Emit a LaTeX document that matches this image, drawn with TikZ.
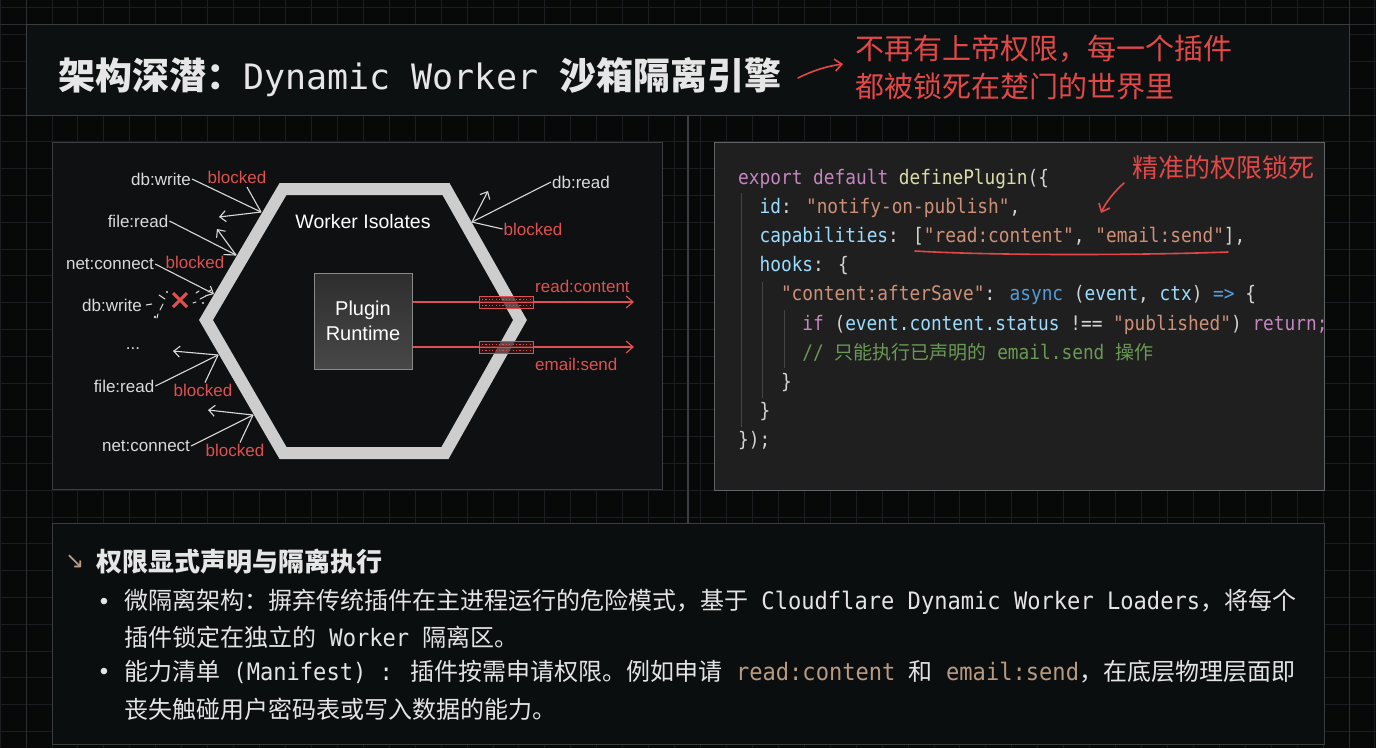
\documentclass[tikz,border=0pt]{standalone}
\usepackage{fontspec}
\setmainfont{Liberation Sans}
\newfontfamily\cjk{Noto Sans CJK SC}
\newfontfamily\dejavu{DejaVu Sans}
\newfontfamily\monoT[Ligatures=TeXOff]{DejaVu Sans Mono}
\newfontfamily\monoC[FakeStretch=0.89,Ligatures=TeXOff]{DejaVu Sans Mono}
\newfontfamily\monoB[FakeStretch=0.92,Ligatures=TeXOff]{DejaVu Sans Mono}
\usetikzlibrary{arrows.meta}
\definecolor{bg}{HTML}{070909}
\definecolor{gridc}{HTML}{1A1E20}
\definecolor{gridm}{HTML}{2A2E30}
\definecolor{pborder}{HTML}{3A3E41}
\definecolor{titlefill}{HTML}{0D1011}
\definecolor{leftfill}{HTML}{0E1011}
\definecolor{codefill}{HTML}{1F1F1F}
\definecolor{botfill}{HTML}{0B0E0F}
\definecolor{hexc}{HTML}{CDCDCD}
\definecolor{lblc}{HTML}{DADADA}
\definecolor{redc}{HTML}{E05050}
\definecolor{annot}{HTML}{E24848}
\definecolor{ckw}{HTML}{C586C0}
\definecolor{cfn}{HTML}{DCDCAA}
\definecolor{cprop}{HTML}{9CDCFE}
\definecolor{cstr}{HTML}{CE9178}
\definecolor{cblue}{HTML}{569CD6}
\definecolor{cpun}{HTML}{D4D4D4}
\definecolor{ccom}{HTML}{6A9955}
\definecolor{guide}{HTML}{454545}
\definecolor{tanc}{HTML}{B89A80}
\definecolor{bodyc}{HTML}{E4E4E4}
\definecolor{titlec}{HTML}{E6E6E6}
\definecolor{boxborder}{HTML}{8A8A8A}
\newcommand\cfm[1]{{\monoB #1}}
\begin{document}
\begin{tikzpicture}[x=1pt,y=-1pt,
  panel/.style={draw=pborder, line width=1pt},
  lbl/.style={text=lblc, font=\fontsize{17}{20}\selectfont, inner sep=1pt},
  blk/.style={text=redc, font=\fontsize{17}{20}\selectfont, inner sep=1pt},
  ray/.style={draw=lblc, line width=1.1pt},
  rayarrow/.style={ray, -{Straight Barb[length=6pt,width=11pt]}},
  redarrow/.style={draw=redc, line width=1.2pt, -{Straight Barb[length=7pt,width=12pt]}},
  annotarrow/.style={draw=annot, line width=1.6pt, line cap=round, -{Straight Barb[length=7pt,width=12pt]}},
  codeline/.style={anchor=base west, inner sep=0, text=cpun, font=\monoC\fontsize{20}{24}\selectfont},
  body/.style={anchor=west, inner sep=0, text=bodyc, font=\cjk\fontsize{24}{30}\selectfont},
  filterbox/.style={draw=redc, line width=0.8pt, fill=redc!25!black, fill opacity=0.7}
]
\useasboundingbox (0,0) rectangle (1376,748);
\fill[bg] (0,0) rectangle (1376,748);
% grid
\foreach \i in {-1,...,52} \draw[gridc, line width=0.8pt] ({26+\i*25.94},0) -- ({26+\i*25.94},748);
\foreach \j in {-4,...,23} \draw[gridc, line width=0.8pt] (0,{115+\j*26.8}) -- (1376,{115+\j*26.8});
\draw[gridm, line width=1pt] (26,0) -- (26,748) (1349,0) -- (1349,748) (0,24) -- (1376,24) (0,115) -- (1376,115);

% panels
\filldraw[panel, fill=titlefill] (26,24) rectangle (1349,115);
\filldraw[panel, fill=leftfill] (52,142) rectangle (662,489);
\filldraw[panel, fill=codefill, draw=pborder!80!white] (714,142) rectangle (1324,490);
\filldraw[panel, fill=botfill] (52,523) rectangle (1324,744);
\draw[pborder, line width=1.2pt] (688,115) -- (688,523);

% title
\node[anchor=west, inner sep=0, text=titlec] (title) at (58,77)
  {\cjk\bfseries\fontsize{37}{40}\selectfont 架构深潜：\monoT\mdseries\fontsize{35}{40}\selectfont Dynamic Worker \cjk\bfseries\fontsize{37}{40}\selectfont 沙箱隔离引擎};
\node[anchor=north west, align=left, inner sep=0, text=annot, font=\cjk\fontsize{29}{38}\selectfont] (note) at (855,35)
  {不再有上帝权限，每一个插件\\都被锁死在楚门的世界里};
\coordinate (a1s) at (798,78);
\coordinate (a1e) at (843,64);
\draw[annotarrow] (a1s) .. controls (814,70) and (828,66) .. (a1e);

% ---------- left diagram ----------
\draw[hexc, line width=12pt, line join=miter] (283,189) -- (446,189) -- (520,320) -- (445,453) -- (283,453) -- (206,320) -- cycle;
\node[text=white, font=\fontsize{19.5}{22}\selectfont, inner sep=0] (wi) at (363,222) {Worker Isolates};
\node[draw=boxborder, line width=1pt, top color=black!82, bottom color=black!72, minimum width=98pt, minimum height=96pt, align=center, text=white, font=\fontsize{20}{25}\selectfont, inner sep=0] (box) at (363,321) {Plugin\\Runtime};

% allowed outputs
\coordinate (o1) at (634,302);
\coordinate (o2) at (634,347);
\draw[redarrow] ([yshift=19pt]box.east) -- (o1);
\draw[redarrow] ([yshift=-26pt]box.east) -- (o2);
\foreach \y in {296,341} {
  \filldraw[filterbox] (479,\y) rectangle (533,{\y+12});
  \draw[redc, line width=0.6pt] (479,{\y+6}) -- (533,{\y+6});
  \draw[redc, line width=1pt, dash pattern=on 1.2pt off 2.2pt] (482,{\y+3}) -- (531,{\y+3}) (482,{\y+9}) -- (531,{\y+9});
}
\node[anchor=west, text=redc, font=\fontsize{17}{20}\selectfont, inner sep=0] (rc) at (535,286) {read:content};
\node[anchor=west, text=redc, font=\fontsize{17}{20}\selectfont, inner sep=0] (es) at (535,364) {email:send};

% blocked requests
\node[lbl] (l1) at (161,179) {db:write};
\node[blk] (b1) at (237,177) {blocked};
\coordinate (h1) at (261,212); \coordinate (r1) at (219,217); \coordinate (b1s) at (247,187);
\draw[ray] (l1.east) -- (h1); \draw[rayarrow] (h1) -- (r1); \draw[ray] (b1s) -- (h1);

\node[lbl] (l2) at (138,221) {file:read};
\node[blk] (b2) at (195,262) {blocked};
\coordinate (h2) at (236,255); \coordinate (r2) at (217,229);
\draw[ray] (l2.east) -- (h2); \draw[rayarrow] (h2) -- (r2); \draw[ray] ([xshift=-2pt]b2.north east) -- (h2);

\node[lbl] (l3) at (110,264) {net:connect};
\coordinate (h3) at (214,294);
\draw[rayarrow] (l3.east) -- (h3);

\node[lbl] (l4) at (112,305) {db:write};
\coordinate (xc) at (180,300);
\draw[ray] ([xshift=3pt]l4.east) -- ++(6,-1);
\draw[lblc, line width=1pt, line cap=round] (159,295) -- (165,299) (163,304) -- (160,310) (158,314) -- (157,318) (196,293) -- (199,291) (200,299) -- (206,296) (193,303) -- (196,302) (208,292) -- (211,290);
\fill[lblc] (167,292) circle (1.2pt) (203,303) circle (1.1pt) (155,317) circle (1.3pt);
\draw[redc, line width=3pt] ([xshift=-7pt,yshift=7pt]xc) -- ([xshift=7pt,yshift=-7pt]xc) ([xshift=7pt,yshift=7pt]xc) -- ([xshift=-7pt,yshift=-7pt]xc);

\node[lbl] (l5) at (133,349) {...};

\node[lbl] (l6) at (124,386) {file:read};
\node[blk] (b6) at (203,390) {blocked};
\coordinate (h6) at (218,355); \coordinate (r6) at (173,351);
\draw[ray] (l6.east) -- (h6); \draw[rayarrow] (h6) -- (r6); \draw[ray] ([xshift=2pt]b6.north) -- (h6);

\node[lbl] (l7) at (146,446) {net:connect};
\node[blk] (b7) at (235,450) {blocked};
\coordinate (h7) at (253,415); \coordinate (r7) at (208,410);
\draw[ray] (l7.east) -- (h7); \draw[rayarrow] (h7) -- (r7); \draw[ray] ([xshift=5pt]b7.north) -- (h7);

\node[lbl] (l8) at (581,182) {db:read};
\node[blk] (b8) at (533,229) {blocked};
\coordinate (h8) at (472,222); \coordinate (r8) at (488,191);
\draw[ray] (l8.west) -- (h8); \draw[rayarrow] (h8) -- (r8); \draw[ray] (b8.west) -- (h8);

% ---------- code panel ----------
\draw[guide, line width=1pt] (741,193) -- (741,427) (762,282) -- (762,398) (784,310) -- (784,368);
\node[codeline] (c1) at (738,184.5) {\textcolor{ckw}{export default} \textcolor{cfn}{definePlugin}(\{};
\node[codeline] (c2) at (759.4,213.6) {\textcolor{cprop}{id}: \textcolor{cstr}{"notify-on-publish"},};
\node[codeline] (c3) at (759.4,242.7) {\textcolor{cprop}{capabilities}: [\textcolor{cstr}{"read:content"}, \textcolor{cstr}{"email:send"}],};
\node[codeline] (c4) at (759.4,271.8) {\textcolor{cprop}{hooks}: \{};
\node[codeline] (c5) at (780.8,300.9) {\textcolor{cstr}{"content:afterSave"}: \textcolor{cblue}{async} (\textcolor{cprop}{event}, \textcolor{cprop}{ctx}) \textcolor{cblue}{=>} \{};
\node[codeline] (c6) at (802.2,330) {\textcolor{ckw}{if} (\textcolor{cprop}{event.content.status} !== \textcolor{cstr}{"published"}) \textcolor{ckw}{return;}};
\node[codeline, text=ccom] (c7) at (802.2,359.1) {// {\cjk\fontsize{19}{24}\selectfont 只能执行已声明的} email.send {\cjk\fontsize{19}{24}\selectfont 操作}};
\node[codeline] (c8) at (780.8,388.2) {\}};
\node[codeline] (c9) at (759.4,417.3) {\}};
\node[codeline] (c10) at (738,446.4) {\});};

\node[anchor=west, inner sep=0, text=annot, font=\cjk\fontsize{26}{30}\selectfont] (note2) at (1132,168) {精准的权限锁死};
\coordinate (a2s) at (1124,183);
\coordinate (a2e) at (1101,213);
\draw[annotarrow] (a2s) .. controls (1114,192) and (1106,202) .. (a2e);
\coordinate (u1) at (915,251);
\coordinate (u2) at (1228,252);
\draw[annot, line width=1.6pt, line cap=round] (u1) .. controls (1000,256) and (1150,255) .. (u2);

% ---------- bottom panel ----------
\node[anchor=west, inner sep=0, text=tanc, font=\dejavu\fontsize{23}{26}\selectfont] (harrow) at (65,562) {↘};
\node[anchor=west, inner sep=0, text=titlec, font=\cjk\bfseries\fontsize{26}{30}\selectfont] (head) at (96,562) {权限显式声明与隔离执行};
\node[anchor=center, inner sep=0, text=bodyc, font=\fontsize{24}{28}\selectfont] (bul1) at (104,604) {•};
\node[body] (t1) at (124,602) {微隔离架构：摒弃传统插件在主进程运行的危险模式，基于\cfm{ Cloudflare Dynamic Worker Loaders}，将每个};
\node[body] (t2) at (124,637) {插件锁定在独立的\cfm{ Worker }隔离区。};
\node[anchor=center, inner sep=0, text=bodyc, font=\fontsize{24}{28}\selectfont] (bul2) at (104,674) {•};
\node[body] (t3) at (124,672) {能力清单\cfm{ (Manifest) : }插件按需申请权限。例如申请\cfm{ \textcolor{tanc}{read:content} }和\cfm{ \textcolor{tanc}{email:send}}，在底层物理层面即};
\node[body] (t4) at (124,709) {丧失触碰用户密码表或写入数据的能力。};
\end{tikzpicture}
\end{document}
